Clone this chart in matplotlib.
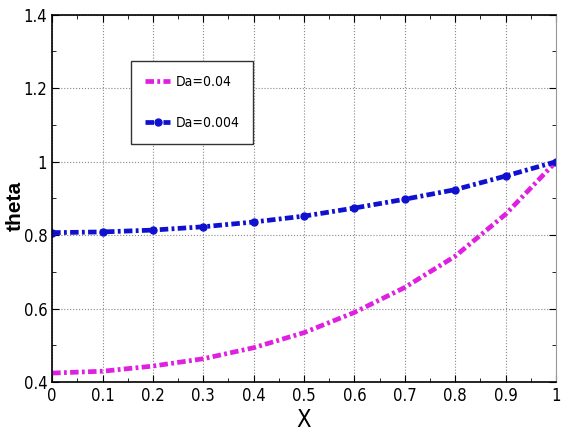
import matplotlib.pyplot as plt
from matplotlib.ticker import MultipleLocator, FuncFormatter

# X positions and theta values
X = [0, 0.1, 0.2, 0.3, 0.4, 0.5, 0.6, 0.7, 0.8, 0.9, 1.0]
theta_da004 = [0.425, 0.430, 0.444, 0.464, 0.494, 0.535, 0.590, 0.658, 0.743, 0.857, 1.0]
theta_da0004 = [0.807, 0.809, 0.814, 0.823, 0.836, 0.852, 0.874, 0.898, 0.924, 0.961, 1.0]

plt.rcParams['font.family'] = ['DejaVu Sans']
plt.rcParams['font.stretch'] = 'condensed'

fig = plt.figure(figsize=(5.61, 4.45), dpi=100)
ax = fig.add_axes([0.093, 0.141, 0.898, 0.826])

dash = (0, (1.8, 0.7, 0.6, 0.7))
ax.plot(X, theta_da004, color='#e020e0', linestyle=dash, linewidth=3.4, label='Da=0.04')
ax.plot(X, theta_da0004, color='#1010d0', linestyle=dash, linewidth=3.4,
        marker='o', markersize=5, label='Da=0.004')

ax.set_xlim(0, 1)
ax.set_ylim(0.4, 1.4)
ax.xaxis.set_major_locator(MultipleLocator(0.1))
ax.xaxis.set_minor_locator(MultipleLocator(0.05))
ax.yaxis.set_major_locator(MultipleLocator(0.2))
ax.yaxis.set_minor_locator(MultipleLocator(0.1))
fmt = FuncFormatter(lambda v, p: '%g' % round(v, 2))
ax.xaxis.set_major_formatter(fmt)
ax.yaxis.set_major_formatter(fmt)

ax.tick_params(which='both', direction='in', top=True, right=True, labelsize=12)
ax.tick_params(which='major', length=5)
ax.tick_params(which='minor', length=3)
ax.grid(True, which='major', linestyle=':', color='#888888', linewidth=0.8)

for s in ['top', 'bottom', 'left']:
    ax.spines[s].set_linewidth(1.2)
ax.spines['right'].set_color('#999999')

ax.set_xlabel('X', fontsize=17, labelpad=2)
ax.set_ylabel('theta', fontsize=15, fontweight='bold',
              family=['Liberation Sans', 'DejaVu Sans'], fontstretch='normal')
ax.yaxis.set_label_coords(-0.054, 0.48)

ax.legend(loc='upper left', bbox_to_anchor=(0.157, 0.875), borderaxespad=0,
          fontsize=10, fancybox=False, edgecolor='#333333', framealpha=1,
          handlelength=1.8, handletextpad=0.4, borderpad=1.0, labelspacing=2.0)

fig.savefig('out.png', dpi=100)
